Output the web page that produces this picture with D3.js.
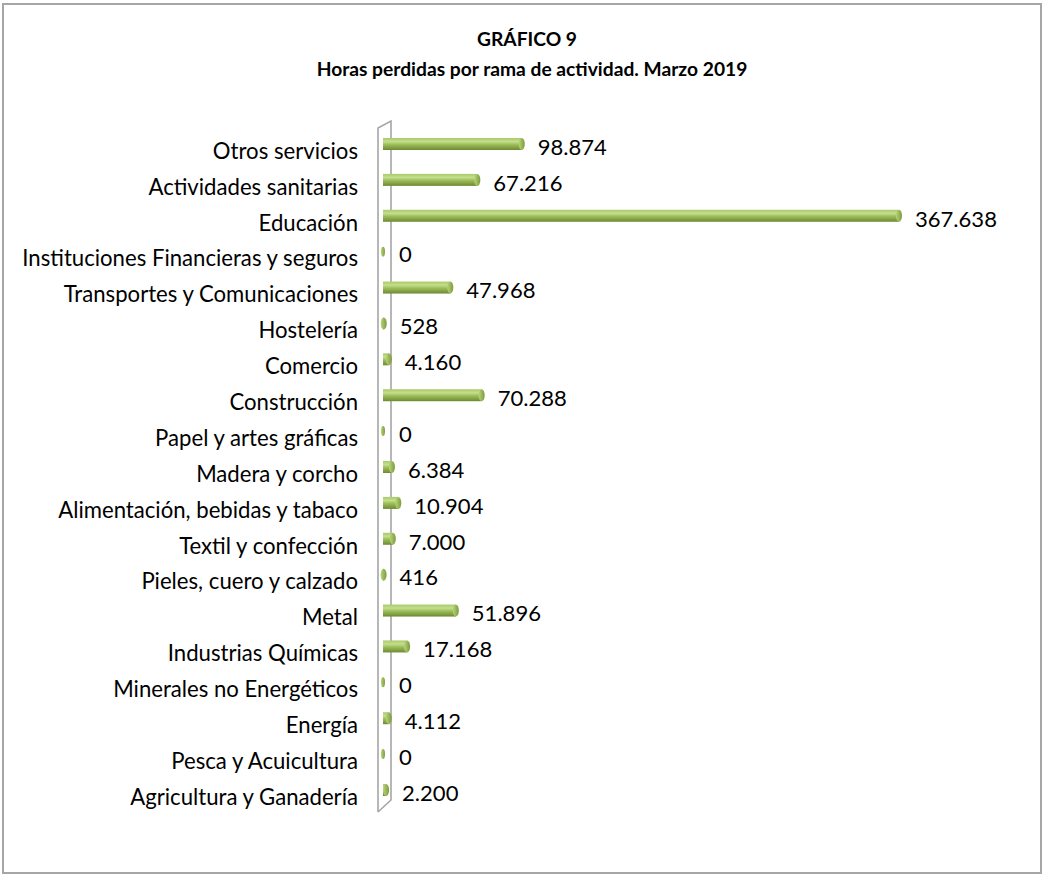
<!DOCTYPE html>
<html><head><meta charset="utf-8">
<script src="https://cdn.jsdelivr.net/npm/d3@7"></script>
<style>html,body{margin:0;padding:0;background:#fff}</style>
</head><body>
<svg id="c" width="1044" height="878"></svg>
<script>
const categories = ["Otros servicios","Actividades sanitarias","Educación","Instituciones Financieras y seguros","Transportes y Comunicaciones","Hostelería","Comercio","Construcción","Papel y artes gráficas","Madera y corcho","Alimentación, bebidas y tabaco","Textil y confección","Pieles, cuero y calzado","Metal","Industrias Químicas","Minerales no Energéticos","Energía","Pesca y Acuicultura","Agricultura y Ganadería"];
const values = [98874,67216,367638,0,47968,528,4160,70288,0,6384,10904,7000,416,51896,17168,0,4112,0,2200];
const valueLabels = ["98.874","67.216","367.638","0","47.968","528","4.160","70.288","0","6.384","10.904","7.000","416","51.896","17.168","0","4.112","0","2.200"];
const titleLines = ["GRÁFICO 9","Horas perdidas por rama de actividad. Marzo 2019"];

const FONT = "Lato, 'Open Sans', sans-serif";
const svg = d3.select("#c");

svg.append("rect").attr("x",3).attr("y",4).attr("width",1038).attr("height",869)
  .attr("fill","#fff").attr("stroke","#a6a6a6").attr("stroke-width",2);

const defs = svg.append("defs");
const g1 = defs.append("linearGradient").attr("id","cyl").attr("x1",0).attr("y1",0).attr("x2",0).attr("y2",1);
[[0,"#a9c96a"],[0.3,"#c4df8c"],[0.55,"#9dbd5b"],[1,"#6c8a30"]].forEach(([o,c])=>g1.append("stop").attr("offset",o).attr("stop-color",c));
const g2 = defs.append("linearGradient").attr("id","cap").attr("x1",0).attr("y1",0).attr("x2",1).attr("y2",0);
[[0,"#b7d47a"],[1,"#7d9a3c"]].forEach(([o,c])=>g2.append("stop").attr("offset",o).attr("stop-color",c));

function fitText(sel, target){
  const w = sel.node().getComputedTextLength();
  const fs = parseFloat(sel.attr("font-size"));
  sel.attr("font-size", fs*target/w);
  return fs*target/w;
}

// title
const t1 = svg.append("text").attr("x",527).attr("y",46).attr("text-anchor","middle")
  .attr("font-family",FONT).attr("font-weight","bold").attr("font-size",16).attr("fill","#000").text(titleLines[0]);
const t2 = svg.append("text").attr("x",532).attr("y",76).attr("text-anchor","middle")
  .attr("font-family",FONT).attr("font-weight","bold").attr("font-size",16).attr("fill","#000").text(titleLines[1]);
fitText(t2, 431);
t1.attr("font-size", t2.attr("font-size"));

// scales
const step = (797-151)/18;
const y = d3.scaleBand().domain(categories).range([151-step/2, 797+step/2]).padding(0);
const x0 = 383;
const x = d3.scaleLinear().domain([0,367638]).range([x0, 899]);

// wall
svg.append("path")
  .attr("d","M378,812 L378,128 L391,121 L391,800 L378,812")
  .attr("fill","none").attr("stroke","#a6a6a6").attr("stroke-width",1.6);

// category axis
const axis = svg.append("g").attr("transform","translate(370,0)")
  .call(d3.axisLeft(y).tickSize(0).tickPadding(12));
axis.select(".domain").remove();
axis.selectAll("text").attr("font-family",FONT).attr("font-size",18).attr("fill","#000").attr("dy","0.35em");
const longest = axis.selectAll("text").filter(d=>d===categories[3]);
const fs = fitText(longest, 336);
axis.selectAll("text").attr("font-size",fs);

// bars
const bh = 12, off = -7;
const bars = svg.append("g").selectAll("g").data(categories).join("g");
bars.filter((d,i)=>values[i]>0).append("rect")
  .attr("x",x0).attr("y",d=>y(d)+y.bandwidth()/2+off-bh/2)
  .attr("width",(d,i)=>Math.max(0,x(values[categories.indexOf(d)])-x0))
  .attr("height",bh).attr("fill","url(#cyl)");
bars.append("ellipse")
  .attr("cx",d=>x(values[categories.indexOf(d)]))
  .attr("cy",d=>y(d)+y.bandwidth()/2+off)
  .attr("rx",d=>values[categories.indexOf(d)]>0?3:2)
  .attr("ry",d=>values[categories.indexOf(d)]>0?bh/2:5)
  .attr("fill","url(#cap)");

// value labels
const vl = svg.append("g").selectAll("text").data(categories).join("text")
  .attr("x",d=>x(values[categories.indexOf(d)])+16)
  .attr("y",d=>y(d)+y.bandwidth()/2-4)
  .attr("dy","0.35em")
  .attr("font-family",FONT).attr("font-size",18).attr("fill","#000")
  .text(d=>valueLabels[categories.indexOf(d)]);
const big = vl.filter(d=>d===categories[2]);
const vfs = fitText(big, 82);
vl.attr("font-size", vfs);
</script>
</body></html>
